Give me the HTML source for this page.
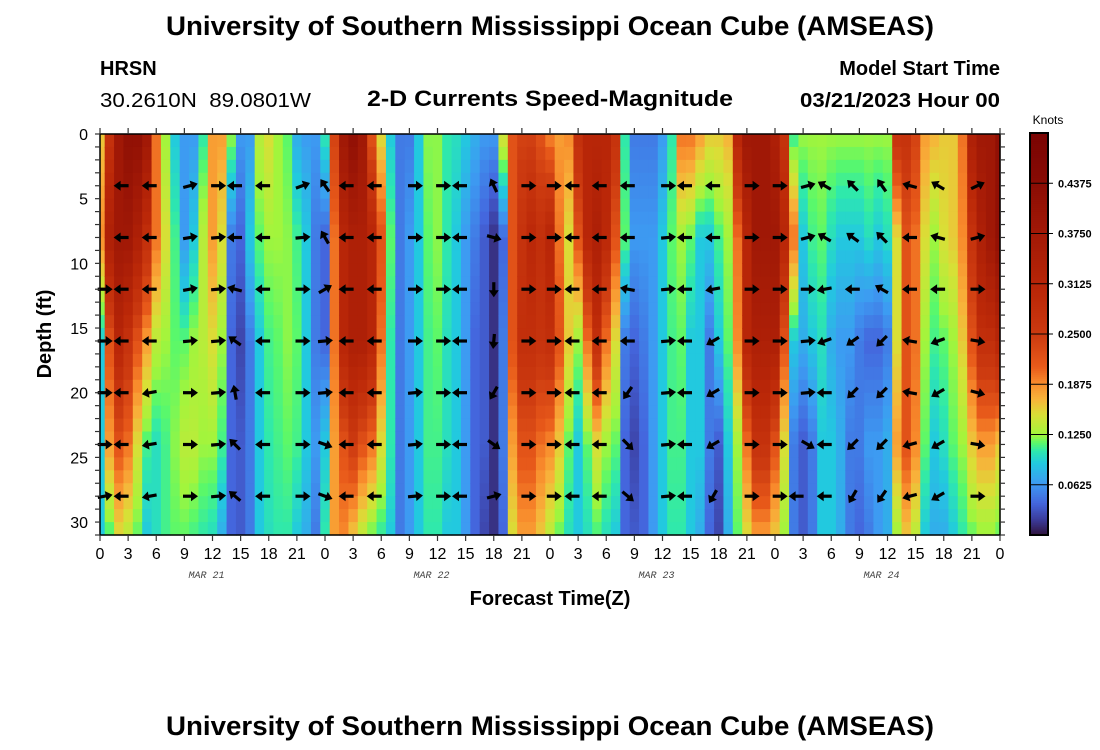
<!DOCTYPE html>
<html><head><meta charset="utf-8"><title>AMSEAS Currents</title>
<style>
html,body{margin:0;padding:0;background:#fff;}
svg{display:block;font-family:"Liberation Sans",Arial,sans-serif;}
</style></head>
<body>
<svg id="chart" width="1100" height="750" viewBox="0 0 1100 750" xmlns="http://www.w3.org/2000/svg">
<text x="550" y="35" text-anchor="middle" font-size="27" font-weight="bold" textLength="768" lengthAdjust="spacingAndGlyphs">University of Southern Mississippi Ocean Cube (AMSEAS)</text>
<text x="100" y="75" font-size="20" font-weight="bold">HRSN</text>
<text x="100" y="107" font-size="20" xml:space="preserve" textLength="211" lengthAdjust="spacingAndGlyphs">30.2610N  89.0801W</text>
<text x="550" y="106" text-anchor="middle" font-size="22" font-weight="bold" textLength="366" lengthAdjust="spacingAndGlyphs">2-D Currents Speed-Magnitude</text>
<text x="1000" y="75" text-anchor="end" font-size="20" font-weight="bold">Model Start Time</text>
<text x="1000" y="107" text-anchor="end" font-size="20" font-weight="bold" textLength="200" lengthAdjust="spacingAndGlyphs">03/21/2023 Hour 00</text>
<g id="heat"></g>
<g id="arrows"></g>
<g id="axes"></g>
<g id="cbar"></g>
<text transform="translate(51,334) rotate(-90)" text-anchor="middle" font-size="20" font-weight="bold">Depth (ft)</text>
<text x="550" y="605" text-anchor="middle" font-size="20" font-weight="bold">Forecast Time(Z)</text>
<text x="550" y="735" text-anchor="middle" font-size="27" font-weight="bold" textLength="768" lengthAdjust="spacingAndGlyphs">University of Southern Mississippi Ocean Cube (AMSEAS)</text>
</svg>
<script>
// ---- data (knots) ----
const hours = Array.from({length:97},(_,i)=>i);
const levelDepths = [0,8,16,24,31];
const speedDepth0 = [.16,.27,.38,.42,.42,.38,.2,.125,.09,.065,.065,.105,.18,.18,.125,.065,.065,.135,.15,.125,.115,.075,.065,.065,.105,.24,.38,.42,.38,.22,.15,.09,.05,.05,.09,.122,.122,.105,.1,.09,.075,.065,.065,.15,.22,.24,.24,.22,.19,.18,.19,.28,.31,.31,.31,.27,.105,.05,.05,.05,.065,.105,.2,.2,.18,.16,.16,.17,.31,.38,.38,.38,.34,.27,.105,.125,.125,.125,.125,.125,.125,.125,.125,.125,.125,.27,.27,.24,.18,.17,.16,.16,.2,.34,.38,.38,.42];
const speedDepth8 = [.19,.34,.38,.38,.34,.28,.2,.15,.11,.065,.09,.135,.18,.15,.05,.04,.09,.115,.125,.125,.122,.11,.09,.05,.04,.2,.31,.34,.34,.31,.22,.115,.05,.065,.09,.115,.122,.105,.09,.065,.05,.035,.015,.04,.22,.27,.3,.28,.31,.2,.15,.22,.31,.34,.3,.22,.115,.065,.065,.065,.09,.115,.125,.115,.09,.09,.11,.125,.2,.31,.38,.38,.38,.31,.2,.09,.11,.115,.1,.09,.09,.09,.1,.09,.1,.15,.22,.2,.15,.125,.15,.16,.19,.27,.34,.38,.42];
const speedDepth16 = [.09,.22,.31,.27,.22,.18,.135,.125,.115,.115,.125,.135,.15,.125,.04,.025,.05,.09,.11,.115,.122,.115,.09,.05,.04,.2,.31,.34,.34,.31,.2,.105,.05,.065,.09,.11,.115,.1,.09,.065,.04,.035,.015,.05,.22,.28,.28,.27,.28,.22,.16,.125,.2,.28,.2,.15,.05,.04,.05,.065,.09,.11,.115,.09,.09,.05,.09,.115,.19,.31,.34,.34,.34,.22,.09,.075,.09,.1,.075,.065,.065,.05,.04,.04,.05,.15,.22,.2,.125,.11,.115,.125,.16,.22,.28,.28,.31];
const speedDepth24 = [.09,.18,.22,.2,.15,.11,.1,.11,.122,.135,.135,.125,.125,.11,.04,.035,.05,.09,.105,.11,.115,.11,.09,.065,.09,.18,.22,.25,.22,.2,.15,.105,.05,.065,.09,.11,.11,.1,.09,.065,.04,.035,.015,.05,.18,.22,.22,.2,.19,.16,.115,.09,.115,.15,.125,.115,.04,.025,.04,.065,.09,.11,.11,.09,.09,.05,.035,.09,.125,.2,.27,.27,.22,.15,.05,.035,.05,.09,.09,.075,.05,.05,.065,.065,.075,.18,.22,.19,.115,.09,.1,.115,.125,.16,.18,.18,.16];
const speedDepth31 = [.09,.11,.15,.135,.115,.09,.1,.11,.115,.115,.11,.105,.1,.075,.04,.035,.05,.09,.1,.105,.105,.09,.075,.05,.105,.18,.19,.16,.135,.115,.105,.09,.05,.065,.09,.105,.105,.09,.09,.065,.04,.025,.015,.04,.15,.18,.18,.16,.135,.115,.1,.09,.1,.11,.1,.09,.04,.035,.04,.065,.09,.105,.105,.09,.075,.04,.025,.075,.115,.15,.18,.18,.16,.125,.05,.035,.05,.09,.09,.075,.05,.04,.05,.065,.075,.125,.16,.135,.09,.075,.075,.09,.105,.115,.122,.122,.115];
// vector hours and directions (degrees, 0 = east, 90 = north), null = no vector
const vectorHours = [0.5,2.3,5.3,9.6,12.6,14.4,17.4,21.6,24,26.3,29.3,33.6,36.6,38.4,42,45.7,48.4,50.4,53.3,56.3,60.6,62.4,65.4,69.5,72.5,74.3,75.5,77.3,80.3,83.4,86.4,89.4,93.6];
const vectorDepths = [4,8,12,16,20,24,28];
const dir4  = [null,180,180,15,0,180,180,20,125,180,180,0,0,180,115,0,0,180,180,180,0,180,180,0,0,null,15,150,135,125,165,150,25];
const dir8  = [null,180,180,10,5,180,180,5,120,180,180,0,0,180,-15,0,0,180,180,180,5,180,180,0,0,null,15,150,145,135,180,165,15];
const dir12 = [0,180,180,10,5,165,180,0,30,180,180,0,0,180,-90,0,0,180,180,170,5,180,-170,0,0,null,0,-170,180,150,180,180,0];
const dir16 = [0,180,180,5,5,145,180,0,5,180,180,0,0,180,-95,0,0,180,180,180,5,180,-150,0,0,null,5,-160,-145,-135,170,-160,-10];
const dir20 = [0,180,-170,0,5,100,180,0,5,180,180,5,0,180,-120,0,0,180,180,-125,5,180,-150,0,0,null,5,180,-135,-135,170,-150,-15];
const dir24 = [0,180,-170,0,5,135,180,0,-20,180,180,5,0,180,-35,0,0,180,180,-45,5,180,-150,0,0,null,-30,180,-135,-135,-165,-150,-10];
const dir28 = [10,180,-170,0,5,140,180,0,-20,180,180,5,0,180,15,0,0,180,180,-40,5,180,-120,0,0,180,null,180,-120,-125,-165,-150,0];
const depthTicks = [0,5,10,15,20,25,30];
const timeTickLabels = ["0","3","6","9","12","15","18","21","0","3","6","9","12","15","18","21","0","3","6","9","12","15","18","21","0","3","6","9","12","15","18","21","0"];
const dayLabels = ["MAR 21","MAR 22","MAR 23","MAR 24"];
const colorbarTicks = [0.0625,0.125,0.1875,0.25,0.3125,0.375,0.4375];

// ---- scales ----
const X0=100,X1=1000,Y0=134,Y1=535,HMAX=96,DMAX=31,VMAX=0.5;
const xs = h => X0 + (X1-X0)*h/HMAX;
const ys = d => Y0 + (Y1-Y0)*d/DMAX;
const stops = [[0,'#30123b'],[0.02,'#3b3c9c'],[0.04,'#4466dd'],[0.065,'#3d9bf2'],[0.09,'#22c9df'],[0.105,'#2ee8ad'],[0.115,'#5af86a'],[0.125,'#a2f53c'],[0.15,'#d9df36'],[0.17,'#f8b23a'],[0.19,'#f88a2c'],[0.21,'#e85a1a'],[0.25,'#cc3a10'],[0.3,'#bb2808'],[0.38,'#a01806'],[0.45,'#850a04'],[0.5,'#7a0403']];
function hex(c){return [1,3,5].map(i=>parseInt(c.substr(i,2),16));}
function color(v){
  v=Math.max(0,Math.min(VMAX,v));
  for(let i=1;i<stops.length;i++){
    if(v<=stops[i][0]){
      const a=stops[i-1],b=stops[i],t=(v-a[0])/(b[0]-a[0]);
      const ca=hex(a[1]),cb=hex(b[1]);
      return 'rgb('+ca.map((c,k)=>Math.round(c+(cb[k]-c)*t)).join(',')+')';
    }
  }
  return stops[stops.length-1][1];
}
const NS='http://www.w3.org/2000/svg';
function mk(tag,attrs,parent){const e=document.createElementNS(NS,tag);for(const k in attrs)e.setAttribute(k,attrs[k]);parent.appendChild(e);return e;}
const levels=[speedDepth0,speedDepth8,speedDepth16,speedDepth24,speedDepth31];
function speedAt(hi,d){
  for(let i=1;i<levelDepths.length;i++){
    if(d<=levelDepths[i]){const t=(d-levelDepths[i-1])/(levelDepths[i]-levelDepths[i-1]);return levels[i-1][hi]+(levels[i][hi]-levels[i-1][hi])*t;}
  }
  return levels[levels.length-1][hi];
}
// ---- heatmap ----
const heat=document.getElementById('heat');
hours.forEach((h,hi)=>{
  const xa=Math.max(X0,xs(h-0.5)), xb=Math.min(X1,xs(h+0.5));
  for(let d=0;d<DMAX;d++){
    const r=mk('rect',{x:xa.toFixed(2),y:ys(d).toFixed(2),width:(xb-xa+0.6).toFixed(2),height:(ys(d+1)-ys(d)+0.6).toFixed(2),fill:color(speedAt(hi,d+0.5))},heat);
    
    
  }
});
// ---- vectors ----
const arrows=document.getElementById('arrows');
const dirRows=[dir4,dir8,dir12,dir16,dir20,dir24,dir28];
dirRows.forEach((row,ri)=>{
  row.forEach((ang,i)=>{
    if(ang===null)return;
    const g=mk('g',{transform:'translate('+xs(vectorHours[i]).toFixed(1)+','+ys(vectorDepths[ri]).toFixed(1)+') rotate('+(-ang)+')'},arrows);
    
    
    mk('line',{x1:-7,y1:0,x2:2,y2:0,stroke:'#000','stroke-width':3.2},g);
    mk('path',{d:'M1,-5 L8,0 L1,5 Z',fill:'#000'},g);
  });
});
// ---- axes ----
const ax=document.getElementById('axes');
mk('rect',{x:X0,y:Y0,width:X1-X0,height:Y1-Y0,fill:'none',stroke:'#000','stroke-width':1.5},ax);
for(let d=0;d<=DMAX;d++){
  const y=ys(d);
  mk('line',{x1:X0-5,y1:y,x2:X0,y2:y,stroke:'#333','stroke-width':1.2},ax);
  mk('line',{x1:X1,y1:y,x2:X1+5,y2:y,stroke:'#333','stroke-width':1.2},ax);
}
depthTicks.forEach(d=>{
  const t=mk('text',{x:88,y:(ys(d)+6).toFixed(1),'text-anchor':'end','font-size':16},ax);
  t.textContent=String(d);
  
  
});
timeTickLabels.forEach((lab,i)=>{
  const x=xs(i*3);
  mk('line',{x1:x,y1:Y0-6,x2:x,y2:Y0,stroke:'#333','stroke-width':1.2},ax);
  mk('line',{x1:x,y1:Y1,x2:x,y2:Y1+6,stroke:'#333','stroke-width':1.2},ax);
  const t=mk('text',{x:x.toFixed(1),y:559,'text-anchor':'middle','font-size':16},ax);
  t.textContent=lab;
  
  
});
dayLabels.forEach((lab,i)=>{
  const t=mk('text',{x:(xs(i*24+12)-6).toFixed(1),y:578,'text-anchor':'middle','font-size':10,'font-style':'italic',fill:'#444','font-family':'"Liberation Mono",monospace'},ax);
  t.textContent=lab;
  
  
});
// ---- colorbar ----
const cb=document.getElementById('cbar');
const CX=1030,CW=18;
const cy=v=>Y1-(Y1-133)*v/VMAX;
for(let k=0;k<200;k++){
  const v0=k*VMAX/200,v1=(k+1)*VMAX/200;
  mk('rect',{x:CX,y:cy(v1).toFixed(2),width:CW,height:(cy(v0)-cy(v1)+0.5).toFixed(2),fill:color((v0+v1)/2)},cb);
}
mk('rect',{x:CX,y:133,width:CW,height:Y1-133,fill:'none',stroke:'#000','stroke-width':2},cb);
colorbarTicks.forEach(v=>{
  const y=cy(v);
  mk('line',{x1:CX,y1:y,x2:CX+CW+5,y2:y,stroke:'#000','stroke-width':1},cb);
  const t=mk('text',{x:1058,y:(y+4).toFixed(1),'font-size':11,'font-weight':'bold'},cb);
  t.textContent=v.toFixed(4);
  
  
});
const kt=mk('text',{x:1048,y:124,'text-anchor':'middle','font-size':12},cb);
kt.textContent='Knots';


</script>
</body></html>
